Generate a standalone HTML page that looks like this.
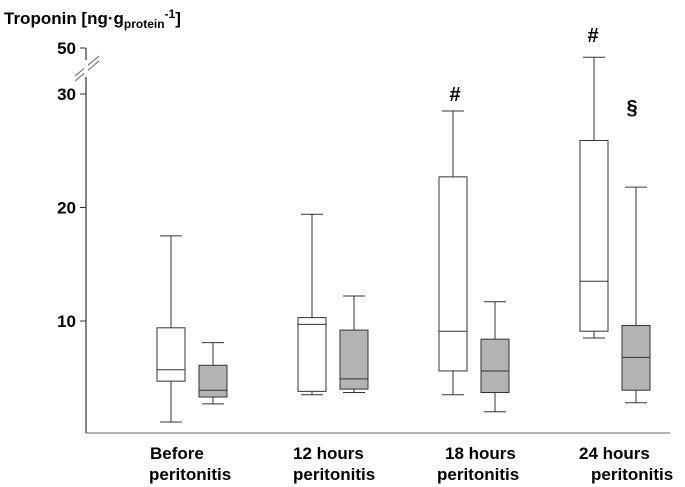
<!DOCTYPE html>
<html><head><meta charset="utf-8"><style>
html,body{margin:0;padding:0;background:#fff;}
svg{display:block;font-family:"Liberation Sans",Arial,sans-serif;}
</style></head><body>
<svg id="chart" width="685" height="487" viewBox="0 0 685 487">
<text x="4" y="24" font-size="17" font-weight="bold">Troponin [ng·g<tspan font-size="12" dy="4">protein</tspan><tspan font-size="12" dy="-10">-1</tspan><tspan dy="6">]</tspan></text>
<g id="axes"></g>
<g id="boxes"></g>
<text x="455" y="101" font-size="20" font-weight="bold" text-anchor="middle">#</text>
<text x="593" y="42" font-size="20" font-weight="bold" text-anchor="middle">#</text>
<text x="632" y="114" font-size="20" font-weight="bold" text-anchor="middle">§</text>
</svg>
<script>
const categories = ["Before|peritonitis","12 hours|peritonitis","18 hours|peritonitis","24 hours|peritonitis"];
const whiteMin = [1.1,3.5,3.5,8.5];
const whiteQ1 = [4.7,3.8,5.6,9.1];
const whiteMed = [5.7,9.7,9.1,13.5];
const whiteQ3 = [9.4,10.3,22.7,25.9];
const whiteMax = [17.5,19.4,28.5,46];
const grayMin = [2.7,3.7,2.0,2.8];
const grayQ1 = [3.3,4.0,3.7,3.9];
const grayMed = [3.9,4.9,5.6,6.8];
const grayQ3 = [6.1,9.2,8.4,9.6];
const grayMax = [8.1,12.2,11.7,21.8];
const tickValues = [10,20,30,50];

const NS="http://www.w3.org/2000/svg";
function y(v){ if(v<=30) return 434.5 - v*11.35; return 94 - (v-30)/20*46; }
function x(i){ return 171 + i*141; }
function mk(tag,attrs,parent){const e=document.createElementNS(NS,tag);for(const k in attrs)e.setAttribute(k,attrs[k]);parent.appendChild(e);return e;}
const axes=document.getElementById('axes'), boxes=document.getElementById('boxes');
let l=mk('line',{x1:86,y1:48,x2:86,y2:433,stroke:'#333','stroke-width':1.2},axes);


l=mk('line',{x1:86,y1:433,x2:670,y2:433,stroke:'#666','stroke-width':1},axes);


mk('line',{x1:75,y1:76,x2:99,y2:56,stroke:'#666','stroke-width':1},axes);
mk('line',{x1:75,y1:81,x2:99,y2:61,stroke:'#666','stroke-width':1},axes);
mk('rect',{x:84,y:60,width:4,height:17,fill:'#fff'},axes);
tickValues.forEach(v=>{
  mk('line',{x1:80,y1:y(v),x2:86,y2:y(v),stroke:'#333'},axes);
  const t=mk('text',{x:76,y:y(v)+6,'font-size':17,'font-weight':'bold','text-anchor':'end'},axes);
  t.textContent=v;
  
  
});
function box(cx,mn,q1,md,q3,mx,fill,name){
  const g=mk('g',{},boxes);
  
  
  const hw=14, cw=11, st='#333';
  mk('line',{x1:cx,y1:y(mx),x2:cx,y2:y(q3),stroke:st},g);
  mk('line',{x1:cx,y1:y(q1),x2:cx,y2:y(mn),stroke:st},g);
  mk('line',{x1:cx-cw,y1:y(mx),x2:cx+cw,y2:y(mx),stroke:st},g);
  mk('line',{x1:cx-cw,y1:y(mn),x2:cx+cw,y2:y(mn),stroke:st},g);
  mk('rect',{x:cx-hw,y:y(q3),width:hw*2,height:y(q1)-y(q3),fill:fill,stroke:st},g);
  mk('line',{x1:cx-hw,y1:y(md),x2:cx+hw,y2:y(md),stroke:st},g);
}
const labelOffsets=[[-21,-22],[-19,-19],[-8,-16],[-15,-3]];
categories.forEach((c,i)=>{
  box(x(i),whiteMin[i],whiteQ1[i],whiteMed[i],whiteQ3[i],whiteMax[i],'#fff','box-control-'+i);
  box(x(i)+42,grayMin[i],grayQ1[i],grayMed[i],grayQ3[i],grayMax[i],'#b3b3b3','box-treated-'+i);
  const parts=c.split('|');
  const t=mk('text',{'font-size':17,'font-weight':'bold'},axes);
  
  
  parts.forEach((p,j)=>{const s=mk('tspan',{x:x(i)+labelOffsets[i][j],y:459+j*21},t);s.textContent=p;});
});
</script>
</body></html>
